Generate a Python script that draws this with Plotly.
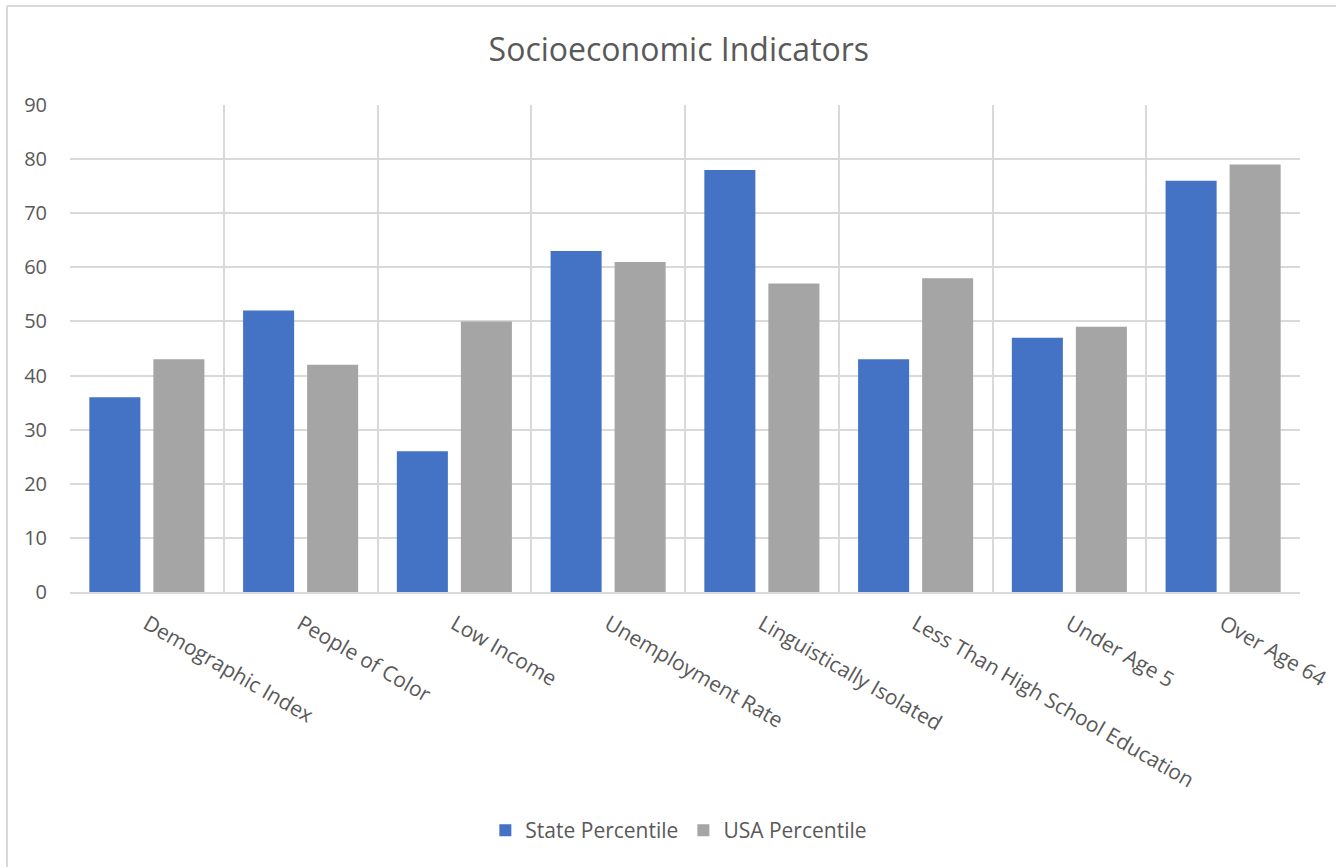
import plotly.graph_objects as go

categories = ["Demographic Index", "People of Color", "Low Income", "Unemployment Rate",
              "Linguistically Isolated", "Less Than High School Education", "Under Age 5", "Over Age 64"]
state_percentile = [36, 52, 26, 63, 78, 43, 47, 76]
usa_percentile = [43, 42, 50, 61, 57, 58, 49, 79]
y_ticks = [0, 10, 20, 30, 40, 50, 60, 70, 80, 90]

FONT = "Open Sans"
TXT = "#595959"
GRID = "#D9D9D9"

fig = go.Figure()
fig.add_trace(go.Bar(name="State Percentile", x=categories, y=state_percentile,
                     marker=dict(color="#4472C4", line=dict(width=0))))
fig.add_trace(go.Bar(name="USA Percentile", x=categories, y=usa_percentile,
                     marker=dict(color="#A5A5A5", line=dict(width=0))))

fig.update_layout(
    width=1336, height=867,
    margin=dict(l=70, r=36, t=105, b=275),
    paper_bgcolor="white", plot_bgcolor="white",
    barmode="group", bargap=0.167, bargroupgap=0.203,
    font=dict(family=FONT, color=TXT, size=17),
    title=dict(text="Socioeconomic Indicators", xref="paper", x=0.495, xanchor="center",
               y=0.943, yanchor="middle",
               font=dict(family=FONT, size=32, color=TXT)),
    showlegend=True,
    legend=dict(orientation="h", x=0.495, xanchor="center", y=-0.49, yanchor="middle",
                font=dict(family=FONT, size=21, color=TXT), itemsizing="constant",
                traceorder="normal", itemwidth=30),
    xaxis=dict(type="category", tickson="boundaries", showgrid=True, gridcolor=GRID, gridwidth=1.5,
               showline=True, linecolor=GRID, linewidth=1.5, ticks="", tickangle=30,
               ticklabelstandoff=10,
               tickfont=dict(family=FONT, size=21, color=TXT), automargin=False),
    yaxis=dict(range=[0, 90], tickvals=y_ticks, showgrid=True, gridcolor=GRID, gridwidth=1.5,
               zeroline=False, showline=False, ticks="outside", ticklen=18,
               tickcolor="rgba(0,0,0,0)",
               tickfont=dict(family=FONT, size=20, color=TXT), automargin=False),
    shapes=[
        dict(type="line", xref="paper", yref="paper", x0=-0.0512, x1=1.05, y0=1.2033, y1=1.2033,
             line=dict(color="#D9D9D9", width=2)),
        dict(type="line", xref="paper", yref="paper", x0=-0.0512, x1=-0.0512, y0=1.2033, y1=-0.6,
             line=dict(color="#D9D9D9", width=2)),
    ],
)

fig.write_html("out.html")
